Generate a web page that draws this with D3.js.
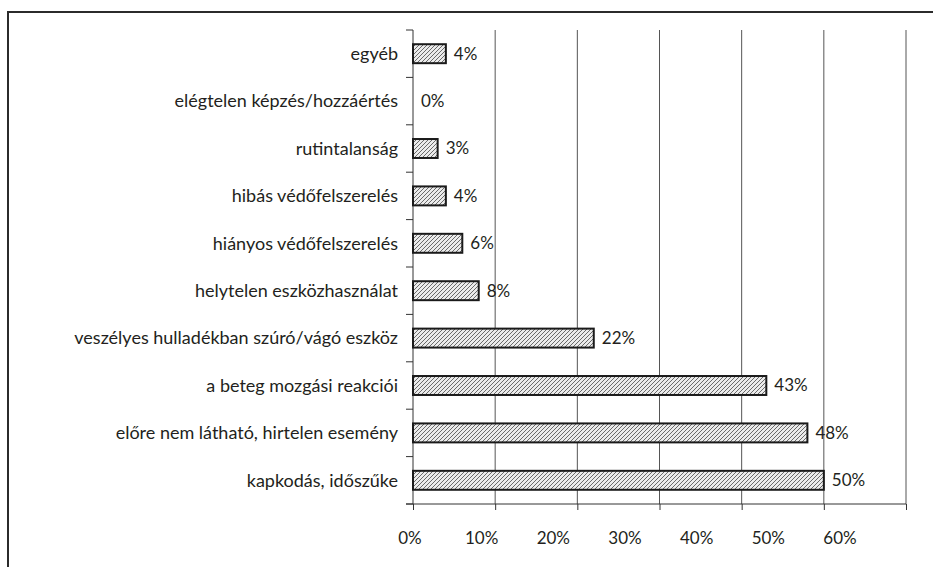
<!DOCTYPE html>
<html>
<head>
<meta charset="utf-8">
<script src="https://cdn.jsdelivr.net/npm/d3@7"></script>
<style>
  body { margin: 0; background: #fff; }
  svg text { font-family: Lato, "Open Sans", sans-serif; fill: #231f20; }
</style>
</head>
<body>
<div id="chart"></div>
<script>
// data, top to bottom as in the picture
const categories = [
    "egyéb",
    "elégtelen képzés/hozzáértés",
    "rutintalanság",
    "hibás védőfelszerelés",
    "hiányos védőfelszerelés",
    "helytelen eszközhasználat",
    "veszélyes hulladékban szúró/vágó eszköz",
    "a beteg mozgási reakciói",
    "előre nem látható, hirtelen esemény",
    "kapkodás, időszűke"
];
const values = [4, 0, 3, 4, 6, 8, 22, 43, 48, 50];
const tickValues = [0, 10, 20, 30, 40, 50, 60];
const tickLabels = ["0%", "10%", "20%", "30%", "40%", "50%", "60%"];

const width = 933, height = 567;
const margin = { top: 30, left: 413, right: 27, bottom: 63 };

const svg = d3.select("#chart").append("svg")
    .attr("width", width)
    .attr("height", height);

// hatch fill
const pat = svg.append("defs").append("pattern")
    .attr("id", "hatch")
    .attr("patternUnits", "userSpaceOnUse")
    .attr("width", 4)
    .attr("height", 4);
pat.append("rect").attr("width", 4).attr("height", 4).attr("fill", "#ebebeb");
pat.append("path")
    .attr("d", "M-1,1 l2,-2 M0,4 l4,-4 M3,5 l2,-2")
    .attr("stroke", "#6a6a6a")
    .attr("stroke-width", 1);

// outer frame (runs off the right and bottom)
svg.append("rect")
    .attr("x", 8).attr("y", 12)
    .attr("width", 940).attr("height", 580)
    .attr("fill", "none")
    .attr("stroke", "#2b2b2b")
    .attr("stroke-width", 2);

const x = d3.scaleLinear()
    .domain([0, 60])
    .range([margin.left, width - margin.right]);

const y = d3.scaleBand()
    .domain(categories)
    .range([margin.top, height - margin.bottom])
    .paddingInner(0.6)
    .paddingOuter(0.3);

// tick labels in the source are squeezed, not under the gridlines
const xLabel = d3.scaleLinear().domain([0, 60]).range([410, 840]);

const plotBottom = height - margin.bottom;

// vertical gridlines
svg.append("g")
    .selectAll("line")
    .data(tickValues.slice(1))
    .join("line")
    .attr("x1", d => x(d)).attr("x2", d => x(d))
    .attr("y1", margin.top).attr("y2", plotBottom)
    .attr("stroke", "#555")
    .attr("stroke-width", 1);

// x axis
const xAxis = svg.append("g")
    .attr("transform", `translate(0,${plotBottom})`)
    .call(d3.axisBottom(x).tickValues(tickValues).tickSize(6).tickFormat(""));
xAxis.select(".domain").remove();
xAxis.selectAll("line").attr("stroke", "#333");
xAxis.append("line")
    .attr("x1", margin.left - 7).attr("x2", x(60))
    .attr("stroke", "#333");

svg.append("g")
    .selectAll("text")
    .data(tickValues)
    .join("text")
    .attr("x", d => xLabel(d))
    .attr("y", 544)
    .attr("text-anchor", "middle")
    .style("font-size", "17px")
    .text((d, i) => tickLabels[i]);

// y axis: line plus ticks at band boundaries
const boundaries = d3.range(categories.length + 1).map(i => margin.top + i * (plotBottom - margin.top) / categories.length);
svg.append("line")
    .attr("x1", margin.left).attr("x2", margin.left)
    .attr("y1", margin.top).attr("y2", plotBottom)
    .attr("stroke", "#333");
svg.append("g")
    .selectAll("line")
    .data(boundaries)
    .join("line")
    .attr("x1", margin.left - 7).attr("x2", margin.left)
    .attr("y1", d => d).attr("y2", d => d)
    .attr("stroke", "#333");

svg.append("g")
    .selectAll("text")
    .data(categories)
    .join("text")
    .attr("x", 398)
    .attr("y", d => y(d) + y.bandwidth() / 2)
    .attr("dy", "0.35em")
    .attr("text-anchor", "end")
    .style("font-size", "18px")
    .text(d => d);

// bars
svg.append("g")
    .selectAll("rect")
    .data(values.map((v, i) => ({ cat: categories[i], v })).filter(d => d.v > 0))
    .join("rect")
    .attr("x", x(0))
    .attr("y", d => y(d.cat))
    .attr("width", d => x(d.v) - x(0))
    .attr("height", y.bandwidth())
    .attr("fill", "url(#hatch)")
    .attr("stroke", "#1a1a1a")
    .attr("stroke-width", 2);

// value labels
svg.append("g")
    .selectAll("text")
    .data(values.map((v, i) => ({ cat: categories[i], v })))
    .join("text")
    .attr("x", d => x(d.v) + 8)
    .attr("y", d => y(d.cat) + y.bandwidth() / 2)
    .attr("dy", "0.35em")
    .style("font-size", "17px")
    .text(d => d.v + "%");
</script>
</body>
</html>
